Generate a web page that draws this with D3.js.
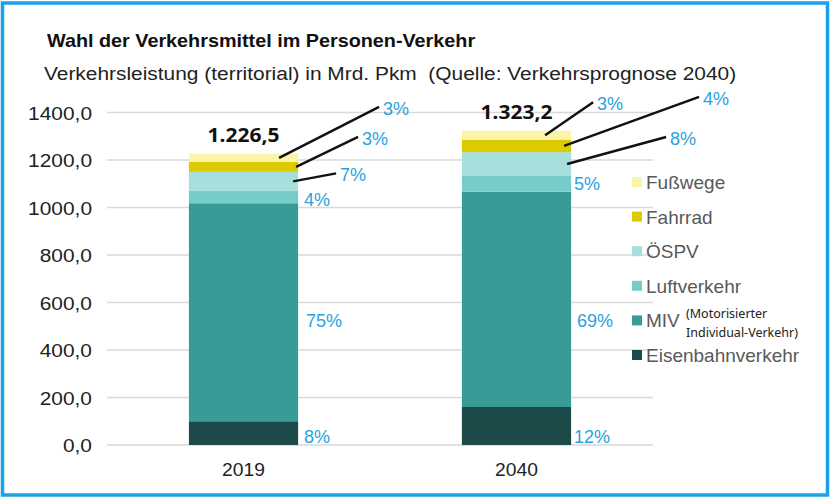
<!DOCTYPE html>
<html>
<head>
<meta charset="utf-8">
<script src="https://cdn.jsdelivr.net/npm/d3@7"></script>
<style>
  html, body { margin: 0; padding: 0; background: #fff; }
  svg { display: block; }
</style>
</head>
<body>
<div id="chart"></div>
<script>
const years = ['2019', '2040'];
const series = ['Eisenbahnverkehr', 'MIV', 'Luftverkehr', 'ÖSPV', 'Fahrrad', 'Fußwege'];
const values2019 = [100, 918, 52, 80, 42, 34.5];
const values2040 = [160, 907, 66, 100, 53, 37.2];
const shares2019 = ['8%', '75%', '4%', '7%', '3%', '3%'];
const shares2040 = ['12%', '69%', '5%', '8%', '4%', '3%'];
const totalLabels = ['1.226,5', '1.323,2'];
const yTicks = [0, 200, 400, 600, 800, 1000, 1200, 1400];
const legendOrder = ['Fußwege', 'Fahrrad', 'ÖSPV', 'Luftverkehr', 'MIV', 'Eisenbahnverkehr'];

const width = 835, height = 500;
const colors = ['#1c4a48', '#389b96', '#76ccc8', '#a7dfdd', '#dccb00', '#fcf4a8'];
const blue = '#2aa2dd';
const stretch = 1.1; // the reference text is a little wider than the font

// label placement relative to the right edge / middle of each segment: [dx, dy, leader inset or null]
const labelLayout = {
  '2019': [[6, 10, null], [8, 15, null], [6, 9, null], [42, 0, 5], [64, -22, 2], [85, -43, 19]],
  '2040': [[3, 17, null], [6, 28, null], [3, 6, null], [99, -19, 4], [132, -41, 7], [26, -25, 26]]
};

const table = years.map((yr, i) => {
  const vals = i === 0 ? values2019 : values2040;
  const row = { year: yr };
  series.forEach((s, j) => row[s] = vals[j]);
  return row;
});
const shares = { '2019': shares2019, '2040': shares2040 };

const svg = d3.select('#chart').append('svg')
  .attr('width', width).attr('height', height);

// frame
svg.append('rect')
  .attr('x', 2.5).attr('y', 3).attr('width', 825).attr('height', 492)
  .attr('fill', '#fff').attr('stroke', '#1ba1ea').attr('stroke-width', 3.5);

const x = d3.scaleBand().domain(years).range([107, 653])
  .paddingInner(0.6).paddingOuter(0.3);
const y = d3.scaleLinear().domain([0, 1400]).range([445, 112.5]);

const at = (px, py, k = stretch) => `translate(${px},${py}) scale(${k},1)`;

// titles
svg.append('text')
  .attr('transform', at(47, 47))
  .style('font-family', 'Liberation Sans, Arial, sans-serif')
  .style('font-weight', 'bold').style('font-size', '18px').attr('fill', '#111')
  .text('Wahl der Verkehrsmittel im Personen-Verkehr');
svg.append('text')
  .attr('transform', at(44, 80))
  .style('font-family', 'Liberation Sans, Arial, sans-serif')
  .style('font-size', '19px').style('white-space', 'pre').attr('fill', '#222')
  .text('Verkehrsleistung (territorial) in Mrd. Pkm  (Quelle: Verkehrsprognose 2040)');

// grid + y labels
svg.append('g').selectAll('line').data(yTicks).join('line')
  .attr('x1', 107).attr('x2', 653)
  .attr('y1', d => y(d)).attr('y2', d => y(d))
  .attr('stroke', '#d9d9d9').attr('stroke-width', 1.5);

svg.append('g').selectAll('text').data(yTicks).join('text')
  .attr('transform', d => at(92, y(d) + 7))
  .attr('text-anchor', 'end')
  .style('font-family', 'Liberation Sans, Arial, sans-serif').style('font-size', '19px')
  .attr('fill', '#222')
  .text(d => d3.format('.1f')(d).replace('.', ','));

// x labels
svg.append('g').selectAll('text').data(years).join('text')
  .attr('transform', d => at(x(d) + x.bandwidth() / 2, 476, 1.07))
  .attr('text-anchor', 'middle')
  .style('font-family', 'Liberation Sans, Arial, sans-serif').style('font-size', '18px')
  .attr('fill', '#222')
  .text(d => d);

// stacked bars
const stacked = d3.stack().keys(series)(table);
const color = d3.scaleOrdinal().domain(series).range(colors);

svg.append('g').selectAll('g').data(stacked).join('g')
  .attr('fill', d => color(d.key))
  .selectAll('rect').data(d => d).join('rect')
  .attr('x', d => x(d.data.year))
  .attr('width', x.bandwidth())
  .attr('y', d => y(d[1]))
  .attr('height', d => y(d[0]) - y(d[1]));

// totals
svg.append('g').selectAll('text').data(years).join('text')
  .attr('transform', (d, i) => at(x(d) + x.bandwidth() / 2,
    y(d3.sum(i === 0 ? values2019 : values2040)) - 12, 1.05))
  .attr('text-anchor', 'middle')
  .style('font-family', 'Noto Sans, sans-serif').style('font-weight', 'bold').style('font-size', '20px')
  .attr('fill', '#111')
  .text((d, i) => totalLabels[i]);

// percentage labels and leader lines
const labels = [];
stacked.forEach((layer, j) => {
  layer.forEach(seg => {
    const yr = seg.data.year;
    const [dx, dy, inset] = labelLayout[yr][j];
    const ax = x(yr) + x.bandwidth();
    const ay = y((seg[0] + seg[1]) / 2);
    labels.push({ text: shares[yr][j], ax, ay, lx: ax + dx, ly: ay + dy, inset });
  });
});

const lg = svg.append('g');
lg.selectAll('line').data(labels.filter(d => d.inset !== null)).join('line')
  .attr('x1', d => d.ax - d.inset).attr('y1', d => d.ay)
  .attr('x2', d => d.lx - 4).attr('y2', d => d.ly - 8)
  .attr('stroke', '#111').attr('stroke-width', 2.5);
lg.selectAll('text').data(labels).join('text')
  .attr('x', d => d.lx).attr('y', d => d.ly)
  .style('font-family', 'Liberation Sans, Arial, sans-serif').style('font-size', '18px')
  .attr('fill', blue)
  .text(d => d.text);

// legend
const legendY = d3.scalePoint().domain(legendOrder).range([182, 355]);
const leg = svg.append('g').selectAll('g').data(legendOrder).join('g')
  .attr('transform', d => `translate(632,${legendY(d)})`);
leg.append('rect')
  .attr('x', 0).attr('y', -5).attr('width', 10).attr('height', 10)
  .attr('fill', d => color(d));
leg.append('text')
  .attr('x', 14).attr('y', 7)
  .style('font-family', 'Liberation Sans, Arial, sans-serif').style('font-size', '19px')
  .attr('fill', '#595959')
  .text(d => d);

const note = svg.append('text')
  .style('font-family', 'Noto Sans, sans-serif').style('font-size', '12.5px')
  .attr('fill', '#222');
note.append('tspan').attr('x', 686).attr('y', legendY('MIV') - 2).text('(Motorisierter');
note.append('tspan').attr('x', 686).attr('y', legendY('MIV') + 17).text('Individual-Verkehr)');
</script>
</body>
</html>
